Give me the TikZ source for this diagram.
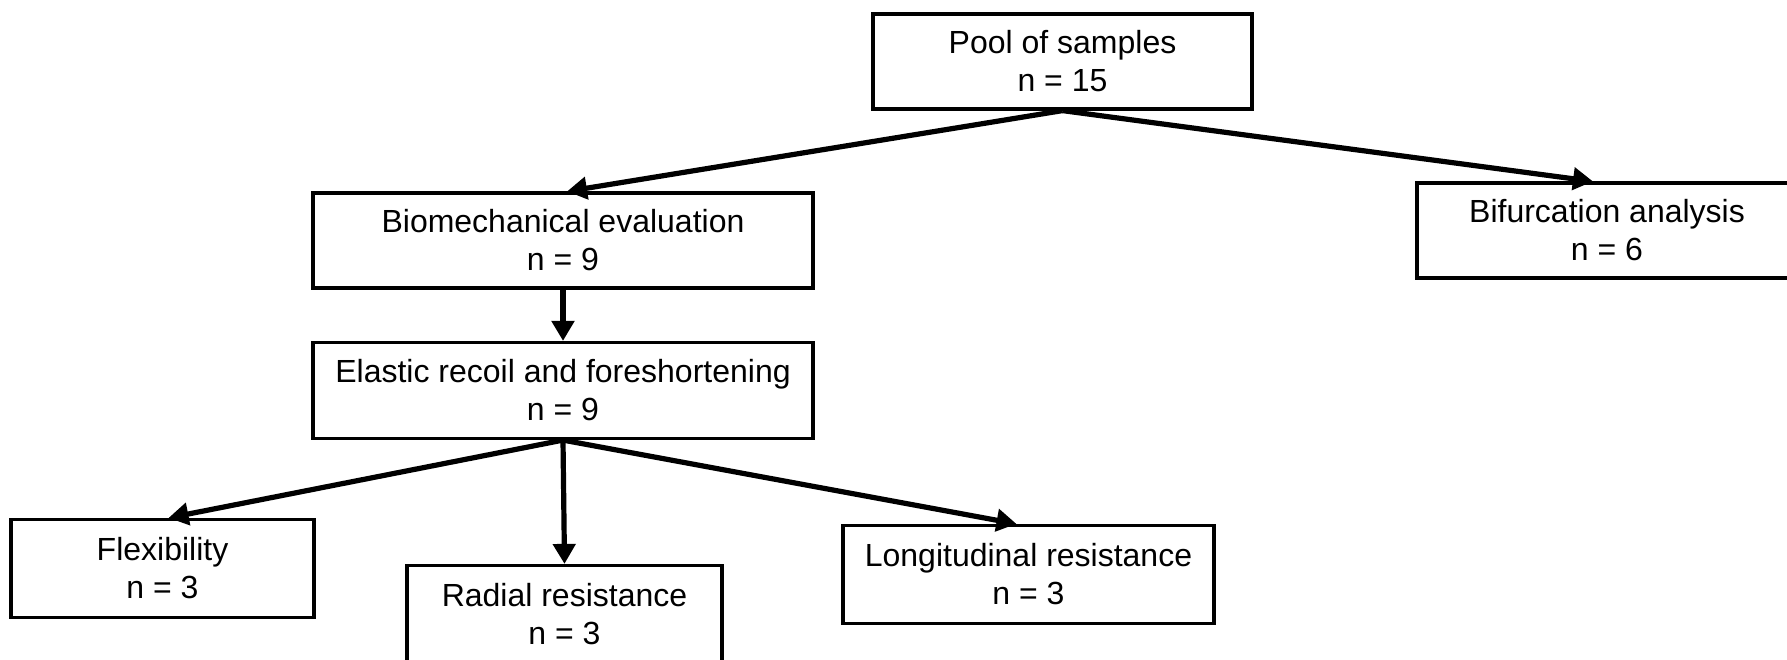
\documentclass[tikz,border=0pt]{standalone}
\usepackage{fontspec}
\setmainfont{Liberation Sans}
\usepackage{tikz}
\usetikzlibrary{arrows.meta}

\tikzset{
  stagebox/.style={draw, line width=1.6pt, align=center, inner sep=0pt,
    font=\fontsize{16}{19}\selectfont},
  flowarrow/.style={line width=2.6pt, -{Triangle[length=10pt,width=11pt]}}
}

\begin{document}
\begin{tikzpicture}[x=0.5pt,y=0.5pt,yscale=-1]
    \useasboundingbox (0,0) rectangle (1787,659);

    %Shape: Rectangle [pool]
    \node [stagebox, minimum width=189.5pt, minimum height=47.5pt] (pool) at (1062.5,61.5) {Pool of samples\\n = 15};
    %Shape: Rectangle [biomech]
    \node [stagebox, minimum width=250pt, minimum height=47.5pt] (biomech) at (563,240.5) {Biomechanical evaluation\\n = 9};
    %Shape: Rectangle [bifurc]
    \node [stagebox, minimum width=190pt, minimum height=47.5pt] (bifurc) at (1607,230.5) {Bifurcation analysis\\n = 6};
    %Shape: Rectangle [elastic]
    \node [stagebox, minimum width=250pt, minimum height=48pt] (elastic) at (563,390.5) {Elastic recoil and foreshortening\\n = 9};
    %Shape: Rectangle [flex]
    \node [stagebox, minimum width=151.5pt, minimum height=49pt] (flex) at (162.5,568.5) {Flexibility\\n = 3};
    %Shape: Rectangle [radial]
    \node [stagebox, minimum width=157.5pt, minimum height=48.5pt] (radial) at (564.5,614) {Radial resistance\\n = 3};
    %Shape: Rectangle [longit]
    \node [stagebox, minimum width=185.5pt, minimum height=49pt] (longit) at (1028.5,574.5) {Longitudinal resistance\\n = 3};

    %Straight Lines
    \draw [flowarrow] (pool.south) -- ([xshift=2pt]biomech.north);
    \draw [flowarrow] (pool.south) -- ([xshift=-7pt]bifurc.north);
    \draw [flowarrow] (biomech.south) -- (elastic.north);
    \draw [flowarrow] (elastic.south) -- ([xshift=3pt]flex.north);
    \draw [flowarrow] (elastic.south) -- (radial.north);
    \draw [flowarrow] (elastic.south) -- ([xshift=-6pt]longit.north);

\end{tikzpicture}
\end{document}
